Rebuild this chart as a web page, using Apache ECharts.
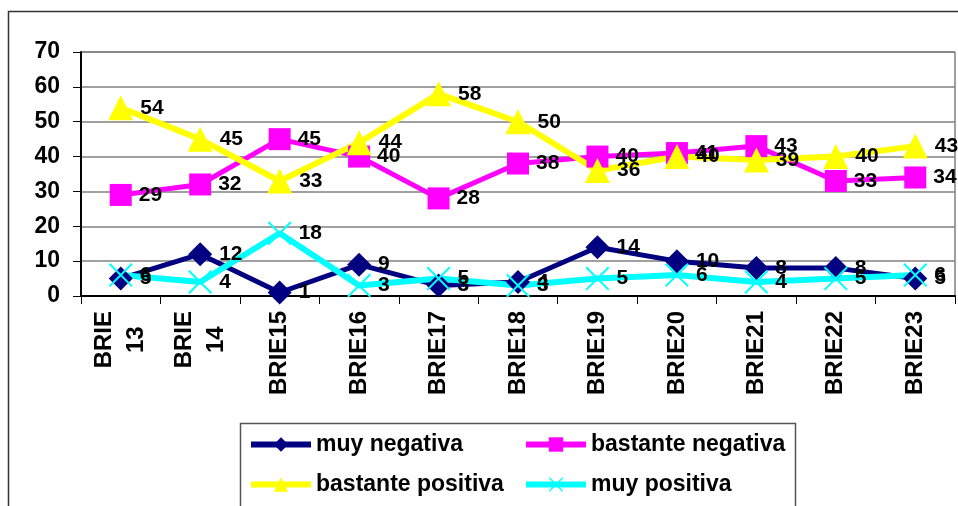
<!DOCTYPE html>
<html>
<head>
<meta charset="utf-8">
<script src="https://cdn.jsdelivr.net/npm/echarts@6/dist/echarts.min.js"></script>
<style>html,body{margin:0;padding:0;background:#fff}#c{width:958px;height:506px}</style>
</head>
<body>
<div id="c"></div>
<script>
var categories = ['BRIE 13','BRIE 14','BRIE15','BRIE16','BRIE17','BRIE18','BRIE19','BRIE20','BRIE21','BRIE22','BRIE23'];
var muyNegativa = [5, 12, 1, 9, 3, 4, 14, 10, 8, 8, 5];
var bastanteNegativa = [29, 32, 45, 40, 28, 38, 40, 41, 43, 33, 34];
var bastantePositiva = [54, 45, 33, 44, 58, 50, 36, 40, 39, 40, 43];
var muyPositiva = [6, 4, 18, 3, 5, 3, 5, 6, 4, 5, 6];
var yTicks = [0, 10, 20, 30, 40, 50, 60, 70];

var FONT = '"Liberation Sans", Arial, sans-serif';
var xSym = 'path://M0,0.6L0.6,0L10,9.4L9.4,10Z M9.4,0L10,0.6L0.6,10L0,9.4Z';

function mkSeries(name, data, color, symbol, size, width) {
  return {
    name: name, type: 'line', data: data,
    symbol: symbol, symbolSize: size, showAllSymbol: true,
    lineStyle: { color: color, width: width },
    itemStyle: { color: color, borderWidth: 0 },
    label: {
      show: true, position: 'right', distance: 7,
      color: '#000', fontWeight: 'bold', fontSize: 21, fontFamily: FONT
    },
    emphasis: { disabled: true },
    animation: false
  };
}

var legendCommon = {
  orient: 'vertical', top: 428, itemWidth: 60, itemHeight: 18, itemGap: 17,
  textStyle: { color: '#000', fontWeight: 'bold', fontSize: 23, fontFamily: FONT },
  lineStyle: { width: 6 },
  selectedMode: false
};

var chart = echarts.init(document.getElementById('c'), null, { renderer: 'canvas' });
chart.setOption({
  backgroundColor: '#fff',
  animation: false,
  grid: { left: 81, right: 3, top: 52, bottom: 210, show: true, borderColor: '#404040', borderWidth: 1 },
  xAxis: {
    type: 'category', data: categories, boundaryGap: true,
    axisLine: { lineStyle: { color: '#000', width: 2 } },
    axisTick: { show: true, length: 8, lineStyle: { color: '#000', width: 1 } },
    axisLabel: {
      interval: 0, rotate: 90, margin: 15,
      color: '#000', fontWeight: 'bold', fontSize: 24, fontFamily: FONT,
      formatter: function (v) { return v.split(' ').map(function (s) { return '{c|' + s + '}'; }).join('\n'); },
      rich: { c: { align: 'center', fontWeight: 'bold', fontSize: 24, fontFamily: FONT, lineHeight: 32, color: '#000' } }
    }
  },
  yAxis: {
    type: 'value', min: yTicks[0], max: yTicks[yTicks.length - 1], interval: 10,
    axisLine: { show: true, lineStyle: { color: '#000', width: 2 } },
    axisTick: { show: true, length: 8, lineStyle: { color: '#000' } },
    axisLabel: { margin: 21, color: '#000', fontWeight: 'bold', fontSize: 23, fontFamily: FONT },
    splitLine: { lineStyle: { color: '#808080', width: 1.5 } }
  },
  legend: [
    Object.assign({ data: ['muy negativa', 'bastante positiva'], left: 243 }, legendCommon),
    Object.assign({ data: ['bastante negativa', 'muy positiva'], left: 518 }, legendCommon)
  ],
  graphic: [
    { type: 'rect', silent: true, z: -1, shape: { x: 8.5, y: 11.5, width: 1000, height: 600 }, style: { fill: 'none', stroke: '#333', lineWidth: 1.5 } },
    { type: 'rect', silent: true, z: -1, shape: { x: 240.5, y: 423.5, width: 555, height: 120 }, style: { fill: 'none', stroke: '#555', lineWidth: 1.5 } }
  ],
  series: [
    mkSeries('muy negativa', muyNegativa, '#000080', 'diamond', 24, 5),
    mkSeries('bastante negativa', bastanteNegativa, '#FF00FF', 'rect', 22, 5),
    mkSeries('bastante positiva', bastantePositiva, '#FFFF00', 'triangle', 25, 6),
    mkSeries('muy positiva', muyPositiva, '#00FFFF', xSym, 24, 6)
  ]
});
</script>
</body>
</html>
